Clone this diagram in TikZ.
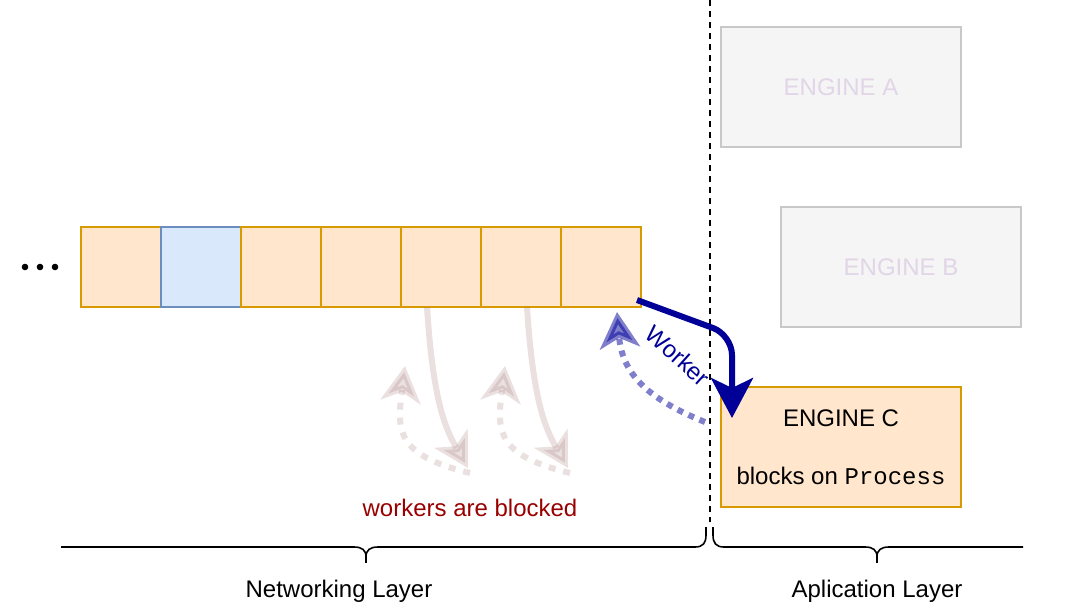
\documentclass[tikz,border=0pt]{standalone}
\usepackage{fontspec}
\setmainfont{Liberation Sans}
\newfontfamily\codefont{Liberation Mono}
\usetikzlibrary{arrows.meta}
\definecolor{cellfill}{HTML}{FFE6CC}
\definecolor{celldraw}{HTML}{D79B00}
\definecolor{bluefill}{HTML}{DAE8FC}
\definecolor{bluedraw}{HTML}{6C8EBF}
\definecolor{grayfill}{HTML}{F5F5F5}
\definecolor{graydraw}{HTML}{C8C8C8}
\definecolor{ghosttext}{HTML}{E1D5E7}
\definecolor{navy}{HTML}{000099}
\definecolor{darkred}{HTML}{990000}
\definecolor{ghostbrown}{RGB}{153,102,102}
\begin{document}
\begin{tikzpicture}[x=1pt,y=-1pt,
  every node/.style={font=\fontsize{24}{28.8}\selectfont, inner sep=0pt, outer sep=0pt},
  cell/.style={draw=celldraw, fill=cellfill, line width=2pt, minimum width=80pt, minimum height=80pt},
  bluecell/.style={cell, draw=bluedraw, fill=bluefill},
  ghostengine/.style={draw=graydraw, fill=grayfill, line width=2pt, minimum width=240pt, minimum height=120pt, text=ghosttext},
  engine/.style={cell, minimum width=240pt, minimum height=120pt, align=center},
  worker/.style={draw=navy, line width=6pt, rounded corners=20pt, -{Stealth[length=40pt,width=42pt,inset=10pt]}},
  bluedot/.style={draw=navy, opacity=0.5, line width=6pt, dash pattern=on 6pt off 6pt, -{Stealth[length=36pt,width=40pt,inset=10pt]}},
  ghostsolid/.style={draw=ghostbrown, opacity=0.2, line width=6pt, -{Stealth[length=34pt,width=38pt,inset=9pt]}},
  ghostdot/.style={draw=ghostbrown, opacity=0.2, line width=6pt, dash pattern=on 7pt off 8pt, -{Stealth[length=36pt,width=40pt,inset=10pt]}},
  divider/.style={draw=black, line width=1.8pt, dash pattern=on 6pt off 5pt},
  bracepath/.style={draw=black, line width=1.6pt},
]
\useasboundingbox (0,0) rectangle (1092,608);

% ellipsis
\fill (25,267) circle (3.3pt);
\fill (40,267) circle (3.3pt);
\fill (55,267) circle (3.3pt);

% queue cells
\node[cell] (c1) at (121,267) {};
\node[bluecell] (c2) at (201,267) {};
\node[cell] (c3) at (281,267) {};
\node[cell] (c4) at (361,267) {};
\node[cell] (c5) at (441,267) {};
\node[cell] (c6) at (521,267) {};
\node[cell] (c7) at (601,267) {};

% divider
\draw[divider] (710,0) -- (710,522);

% engines
\node[ghostengine] (enga) at (841,87) {ENGINE A};
\node[ghostengine] (engb) at (901,267) {ENGINE B};
\node[engine] (engc) at (841,447) {ENGINE C\\[28.8pt]blocks on {\codefont Process}};

% blocked workers (ghosted)
\coordinate (g1) at (468,468);
\coordinate (g2) at (568,468);
\coordinate (h1s) at (470,473);
\coordinate (h2s) at (570,473);
\coordinate (h1e) at (405,366);
\coordinate (h2e) at (505,366);
\draw[ghostsolid] ([shift={(-14,0)}]c5.south) .. controls (433,400) and (445,428) .. (g1);
\draw[ghostsolid] ([shift={(6,0)}]c6.south) .. controls (533,400) and (545,428) .. (g2);
\draw[ghostdot] (h1s) .. controls (395,455) and (397,430) .. (h1e);
\draw[ghostdot] (h2s) .. controls (495,455) and (497,430) .. (h2e);
\node[text=darkred, anchor=base] (blk) at (470,516) {workers are blocked};

% active worker
\draw[worker] ([shift={(-4,-7)}]c7.south east) -- ++(95,35) -- ([shift={(11,31)}]engc.north west);
\draw[bluedot] ([shift={(-16,35)}]engc.north west) .. controls (645,398) and (622,372) .. ([shift={(-24,5)}]c7.south east);
\node[text=navy, rotate=-42] (wl) at (678,356) {Worker};

% braces
\draw[bracepath] (61,547) -- (354,547) .. controls (362,547) and (366,550) .. (366,557) .. controls (366,550) and (370,547) .. (378,547) -- (695,547) .. controls (703,547) and (706,543) .. (706,535) -- (706,527);
\draw[bracepath] (366,555) -- (366,563);
\draw[bracepath] (713,527) -- (713,535) .. controls (713,543) and (716,547) .. (724,547) -- (865,547) .. controls (873,547) and (877,550) .. (877,557) .. controls (877,550) and (881,547) .. (889,547) -- (1023,547);
\draw[bracepath] (877,555) -- (877,563);

\node[anchor=base] (netl) at (339,597) {Networking Layer};
\node[anchor=base] (appl) at (877,597) {Aplication Layer};
\end{tikzpicture}
\end{document}
